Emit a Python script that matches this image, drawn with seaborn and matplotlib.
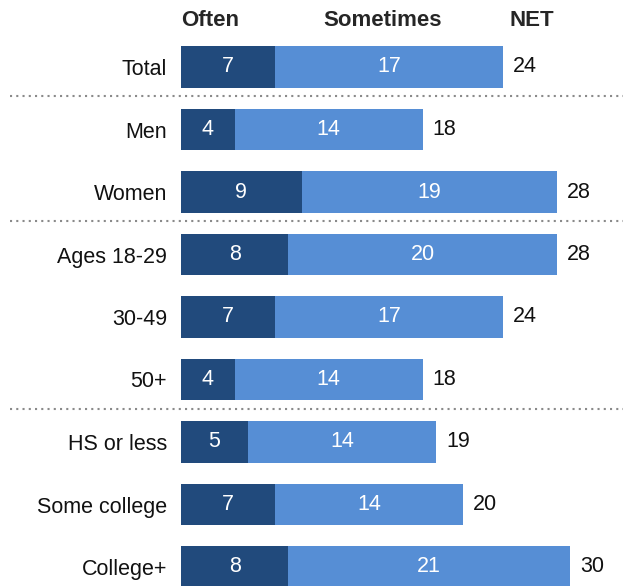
import matplotlib
matplotlib.use("Agg")
import matplotlib.pyplot as plt
import seaborn as sns
import pandas as pd

# --- Data ---
categories = ["Total", "Men", "Women", "Ages 18-29", "30-49", "50+",
              "HS or less", "Some college", "College+"]
often = [7, 4, 9, 8, 7, 4, 5, 7, 8]
sometimes = [17, 14, 19, 20, 17, 14, 14, 14, 21]
net = [24, 18, 28, 28, 24, 18, 19, 20, 30]
headers = ["Often", "Sometimes", "NET"]
separators_after = [0, 2, 5]  # dotted line below these rows

DARK = "#214a7c"
LIGHT = "#568ed5"

sns.set_theme(style="white")
plt.rcParams['font.family'] = ['Liberation Sans', 'DejaVu Sans']

df = pd.DataFrame({"category": categories, "often": often, "sometimes": sometimes})
df["stack"] = df["often"] + df["sometimes"]

fig = plt.figure(figsize=(6.23, 5.86), dpi=100)
ax = fig.add_axes([181 / 623, 0, 442 / 623, 1])

# light bar = often + sometimes, dark bar = often drawn on top
sns.barplot(data=df, x="stack", y="category", color=LIGHT, width=0.67,
            saturation=1, ax=ax, orient="h", linewidth=0)
sns.barplot(data=df, x="often", y="category", color=DARK, width=0.67,
            saturation=1, ax=ax, orient="h", linewidth=0)

ax.set_xlim(0, 442 / 13.42)
ax.set_ylim(8.304, -1.072)
ax.set_xlabel("")
ax.set_ylabel("")
ax.set_xticks([])
ax.tick_params(axis="y", length=0, pad=10, labelsize=15.5, labelcolor="#111111")
sns.despine(ax=ax, left=True, bottom=True, top=True, right=True)

# segment labels + NET
for i, (o, s, n) in enumerate(zip(often, sometimes, net)):
    ax.text(o / 2, i, str(o), color="white", ha="center", va="center", fontsize=15.5)
    ax.text(o + s / 2, i, str(s), color="white", ha="center", va="center", fontsize=15.5)
    ax.text(o + s + 0.75, i, str(n), color="#111111", ha="left", va="center", fontsize=15.5)

# column headers
ax.text(0, -0.75, headers[0], ha="left", va="center", fontsize=16, fontweight="bold")
ax.text(15.0, -0.75, headers[1], ha="center", va="center", fontsize=16, fontweight="bold")
ax.text(24.5, -0.75, headers[2], ha="left", va="center", fontsize=16, fontweight="bold")

# dotted group separators
for r in separators_after:
    ax.axhline(r + 0.47, xmin=(10 - 181) / 442, xmax=1, color="#8a8a8a",
               linestyle=(0, (1, 2)), linewidth=1.5, clip_on=False)

plt.savefig("out.png", dpi=100)
